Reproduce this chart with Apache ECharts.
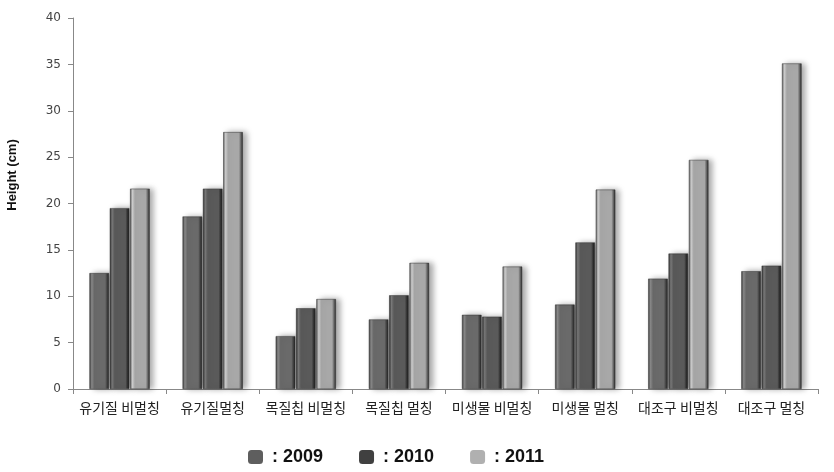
<!DOCTYPE html>
<html>
<head>
<meta charset="utf-8">
<script src="https://cdn.jsdelivr.net/npm/echarts@6/dist/echarts.min.js"></script>
<style>
 html,body{margin:0;padding:0;background:#fff;}
 #main{width:834px;height:472px;}
</style>
</head>
<body>
<div id="main"></div>
<script>
// 처리구
var categories = ['유기질 비멀칭', '유기질멀칭', '목질칩 비멀칭', '목질칩 멀칭', '미생물 비멀칭', '미생물 멀칭', '대조구 비멀칭', '대조구 멀칭'];
// 연도별 높이 (cm)
var h2009 = [12.5, 18.6, 5.7, 7.5, 8.0, 9.1, 11.9, 12.7];
var h2010 = [19.5, 21.6, 8.7, 10.1, 7.8, 15.8, 14.6, 13.3];
var h2011 = [21.6, 27.7, 9.7, 13.6, 13.2, 21.5, 24.7, 35.1];
var yTicks = [0, 5, 10, 15, 20, 25, 30, 35, 40];

/*막대 입체 효과*/
function bevel(dark, mid, light){
  return {
    type: 'linear', x: 0, y: 0, x2: 1, y2: 0,
    colorStops: [
      {offset: 0, color: dark},
      {offset: 0.12, color: light},
      {offset: 0.25, color: mid},
      {offset: 0.8, color: mid},
      {offset: 0.92, color: dark},
      {offset: 1, color: '#222'}
    ]
  };
}

function makeSeries(name, data, dark, mid, light){
  return {
    name: name,
    type: 'bar',
    data: data,
    barWidth: '21%',
    barGap: '4%',
    itemStyle: {
      color: bevel(dark, mid, light),
      borderColor: '#333',
      borderWidth: 0.5,
      shadowBlur: 6,
      shadowOffsetX: 4,
      shadowOffsetY: 0,
      shadowColor: 'rgba(0,0,0,0.35)'
    }
  };
}

var chart = echarts.init(document.getElementById('main'));
var option = {
  animation: false,
  grid: {left: 73, right: 16, top: 18, bottom: 83},
  graphic: [{
    type: 'text',
    x: 12, y: 175,
    rotation: Math.PI / 2,
    style: {
      text: 'Height (cm)',
      fontSize: 13, fontWeight: 'bold', fill: '#111',
      fontFamily: 'Arial, Liberation Sans',
      align: 'center', verticalAlign: 'middle'
    }
  }],
  legend: {
    top: 443,
    left: 243,
    itemWidth: 15,
    itemHeight: 14,
    itemGap: 36,
    icon: 'roundRect',
    textStyle: {fontSize: 18, fontWeight: 'bold', color: '#111', fontFamily: 'Arial, Liberation Sans', padding: [0, 0, 0, 4]},
    data: [
      {name: ': 2009', itemStyle: {color: '#5e5e5e', borderWidth: 0, shadowBlur: 0}},
      {name: ': 2010', itemStyle: {color: '#404040', borderWidth: 0, shadowBlur: 0}},
      {name: ': 2011', itemStyle: {color: '#b0b0b0', borderWidth: 0, shadowBlur: 0}}
    ]
  },
  xAxis: {
    type: 'category',
    data: categories,
    axisLine: {lineStyle: {color: '#888'}},
    axisTick: {show: true, alignWithLabel: false, length: 5, lineStyle: {color: '#888'}},
    axisLabel: {fontSize: 14, color: '#222', margin: 12, interval: 0, fontFamily: 'Noto Sans CJK KR'}
  },
  yAxis: {
    type: 'value',
    min: 0, max: 40, interval: 5,
    axisLine: {show: true, lineStyle: {color: '#888'}},
    axisTick: {show: true, length: 5, lineStyle: {color: '#888'}},
    splitLine: {show: false},
    axisLabel: {fontSize: 12, color: '#444', margin: 12, fontFamily: 'DejaVu Sans',
      formatter: function(v){ return yTicks.indexOf(v) >= 0 ? String(v) : ''; }}
  },
  series: [
    makeSeries(': 2009', h2009, '#3c3c3c', '#6a6a6a', '#8a8a8a'),
    makeSeries(': 2010', h2010, '#2c2c2c', '#5a5a5a', '#7a7a7a'),
    makeSeries(': 2011', h2011, '#5c5c5c', '#a8a8a8', '#cfcfcf')
  ]
};
chart.setOption(option);
</script>
</body>
</html>
